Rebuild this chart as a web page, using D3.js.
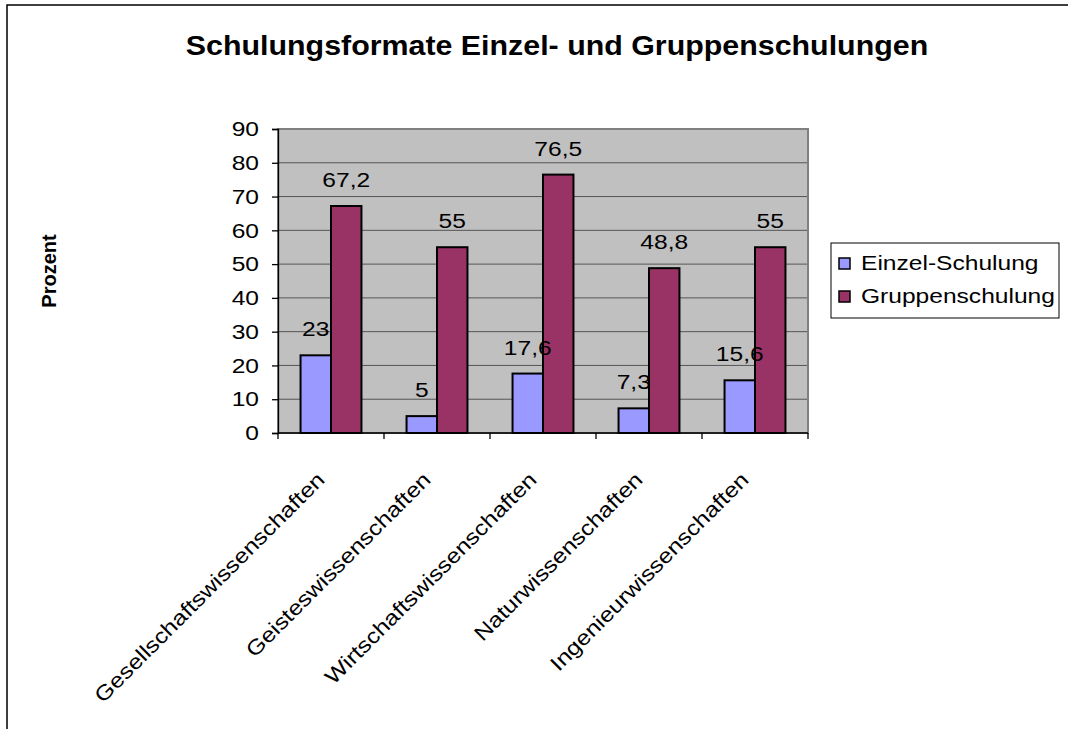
<!DOCTYPE html>
<html>
<head>
<meta charset="utf-8">
<script src="https://cdn.jsdelivr.net/npm/d3@7"></script>
<style>
  body { margin: 0; background: #fff; }
  text { font-family: "Liberation Sans", Arial, sans-serif; }
</style>
</head>
<body>
<script>
// chart data
var categories = ["Gesellschaftswissenschaften", "Geisteswissenschaften", "Wirtschaftswissenschaften", "Naturwissenschaften", "Ingenieurwissenschaften"];
var seriesNames = ["Einzel-Schulung", "Gruppenschulung"];
var einzel = [23, 5, 17.6, 7.3, 15.6];
var gruppe = [67.2, 55, 76.5, 48.8, 55];
var yTicks = [0, 10, 20, 30, 40, 50, 60, 70, 80, 90];
var colors = ["#9999FF", "#993366"];

var W = 1068, H = 729;
var plot = {left: 278, top: 129, right: 808, bottom: 433};
var STRETCH = 1.17; // text in the original is a bit wider than plain Arial

var svg = d3.select("body").append("svg")
  .attr("width", W).attr("height", H);

// outer frame (only top and left edges are visible)
svg.append("path")
  .attr("d", "M7,729 L7,5 L1068,5")
  .attr("fill", "none").attr("stroke", "#000").attr("stroke-width", 1.5);

var x = d3.scaleBand().domain(categories).range([plot.left, plot.right]);
var xs = d3.scaleBand().domain(seriesNames).range([0, x.bandwidth()]).paddingInner(0).paddingOuter(0.74);
var y = d3.scaleLinear().domain([0, 90]).range([plot.bottom, plot.top]);

// plot background
svg.append("rect")
  .attr("x", plot.left).attr("y", plot.top)
  .attr("width", plot.right - plot.left).attr("height", plot.bottom - plot.top)
  .attr("fill", "#C0C0C0");

// gridlines
svg.append("g").selectAll("line")
  .data(yTicks.slice(1))
  .enter().append("line")
  .attr("x1", plot.left).attr("x2", plot.right)
  .attr("y1", function(d) { return y(d); }).attr("y2", function(d) { return y(d); })
  .attr("stroke", "#555").attr("stroke-width", 1);

// plot border
svg.append("rect")
  .attr("x", plot.left).attr("y", plot.top)
  .attr("width", plot.right - plot.left).attr("height", plot.bottom - plot.top)
  .attr("fill", "none").attr("stroke", "#808080").attr("stroke-width", 2);

// y axis
var yAxis = svg.append("g")
  .attr("transform", "translate(" + plot.left + ",0)")
  .call(d3.axisLeft(y).tickValues(yTicks).tickSize(6));
yAxis.select(".domain").attr("stroke", "#000").attr("stroke-width", 1.3);
yAxis.selectAll(".tick line").attr("stroke", "#000").attr("stroke-width", 1.3);
yAxis.selectAll(".tick text")
  .attr("x", 0)
  .attr("transform", "translate(-19,0) scale(" + STRETCH + ",1)")
  .attr("font-size", 21).attr("fill", "#000")
  .style("font-family", "Liberation Sans, Arial, sans-serif");

// x axis with ticks at category boundaries
svg.append("line")
  .attr("x1", plot.left).attr("x2", plot.right)
  .attr("y1", plot.bottom).attr("y2", plot.bottom)
  .attr("stroke", "#000").attr("stroke-width", 1.3);
var bounds = categories.map(function(c) { return x(c); }).concat([plot.right]);
svg.append("g").selectAll("line")
  .data(bounds)
  .enter().append("line")
  .attr("x1", function(d) { return d; }).attr("x2", function(d) { return d; })
  .attr("y1", plot.bottom).attr("y2", plot.bottom + 6)
  .attr("stroke", "#000").attr("stroke-width", 1.3);

// x category labels, rotated
svg.append("g").selectAll("text")
  .data(categories)
  .enter().append("text")
  .attr("text-anchor", "end")
  .attr("font-size", 21)
  .attr("transform", function(d) {
    var cx = x(d) + x.bandwidth() / 2 - 5;
    return "translate(" + cx + "," + (plot.bottom + 48) + ") rotate(-45) scale(" + STRETCH + ",1)";
  })
  .text(function(d) { return d; });

// bars
var rows = categories.map(function(c, i) {
  return {cat: c, values: [einzel[i], gruppe[i]]};
});
var groups = svg.append("g").selectAll("g")
  .data(rows)
  .enter().append("g")
  .attr("transform", function(d) { return "translate(" + x(d.cat) + ",0)"; });

groups.selectAll("rect")
  .data(function(d) { return d.values.map(function(v, j) { return {s: seriesNames[j], v: v, j: j}; }); })
  .enter().append("rect")
  .attr("x", function(d) { return xs(d.s); })
  .attr("width", xs.bandwidth())
  .attr("y", function(d) { return y(d.v); })
  .attr("height", function(d) { return plot.bottom - y(d.v); })
  .attr("fill", function(d) { return colors[d.j]; })
  .attr("stroke", "#000").attr("stroke-width", 2);

// value labels
groups.selectAll("text")
  .data(function(d) { return d.values.map(function(v, j) { return {s: seriesNames[j], v: v}; }); })
  .enter().append("text")
  .attr("transform", function(d) {
    return "translate(" + (xs(d.s) + xs.bandwidth() / 2) + "," + (y(d.v) - 19) + ") scale(" + STRETCH + ",1)";
  })
  .attr("text-anchor", "middle")
  .attr("font-size", 21)
  .text(function(d) { return String(d.v).replace(".", ","); });

// title
svg.append("text")
  .attr("transform", "translate(557,55) scale(1.085,1)")
  .attr("text-anchor", "middle")
  .attr("font-size", 28).attr("font-weight", "bold")
  .text("Schulungsformate Einzel- und Gruppenschulungen");

// y axis title
svg.append("text")
  .attr("transform", "translate(56,271) rotate(-90)")
  .attr("text-anchor", "middle")
  .attr("font-size", 20).attr("font-weight", "bold")
  .text("Prozent");

// legend
var legend = svg.append("g").attr("transform", "translate(831,243)");
legend.append("rect")
  .attr("width", 228).attr("height", 75)
  .attr("fill", "#fff").attr("stroke", "#000").attr("stroke-width", 1);
var items = legend.selectAll("g.item")
  .data(seriesNames)
  .enter().append("g")
  .attr("class", "item")
  .attr("transform", function(d, i) { return "translate(0," + (i * 33 + 27) + ")"; });
items.append("rect")
  .attr("x", 8).attr("y", -12).attr("width", 11).attr("height", 11)
  .attr("fill", function(d, i) { return colors[i]; })
  .attr("stroke", "#000").attr("stroke-width", 1.5);
items.append("text")
  .attr("transform", "translate(30,0) scale(" + STRETCH + ",1)")
  .attr("font-size", 21)
  .text(function(d) { return d; });
</script>
</body>
</html>
